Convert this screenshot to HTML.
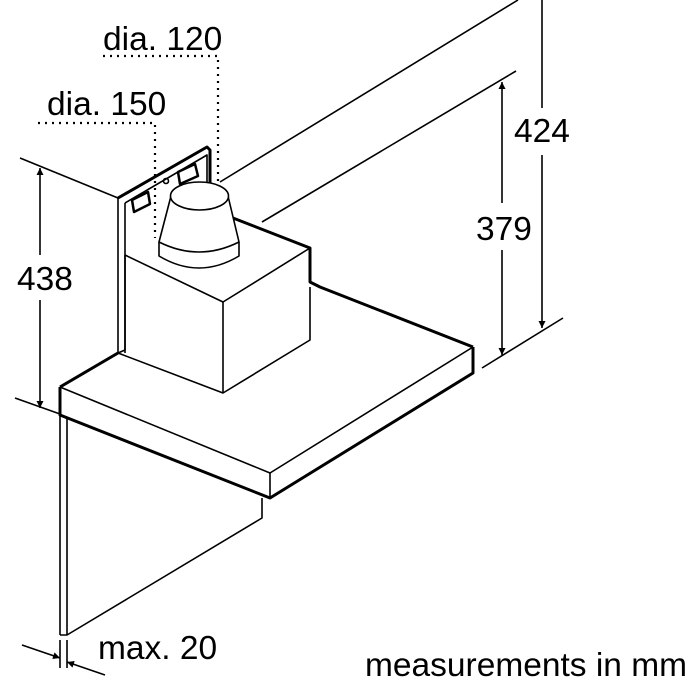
<!DOCTYPE html>
<html><head><style>html,body{margin:0;padding:0;background:#fff}svg{display:block}</style></head>
<body>
<svg width="700" height="700" viewBox="0 0 700 700" xmlns="http://www.w3.org/2000/svg">
<defs>
<marker id="a" viewBox="0 0 10 10" refX="10" refY="5" markerWidth="7" markerHeight="11" orient="auto-start-reverse" markerUnits="userSpaceOnUse"><path d="M0,0 L10,5 L0,10 z" fill="#000"/></marker>
</defs>
<g fill="none" stroke="#000" stroke-width="1.6" stroke-linejoin="round">
<line x1="220" y1="182" x2="518" y2="0"/>
<line x1="262" y1="222" x2="516" y2="71"/>
<line x1="20" y1="158" x2="118" y2="198"/>
<line x1="15" y1="398" x2="60" y2="414"/>
<line x1="482" y1="368" x2="563" y2="318"/>
<line x1="40" y1="168" x2="40" y2="255" marker-start="url(#a)"/>
<line x1="40" y1="300" x2="40" y2="408" marker-end="url(#a)"/>
<line x1="502" y1="82" x2="502" y2="203" marker-start="url(#a)"/>
<line x1="502" y1="250" x2="502" y2="355" marker-end="url(#a)"/>
<line x1="542" y1="0" x2="542" y2="108" />
<line x1="542" y1="155" x2="542" y2="328" marker-end="url(#a)"/>
<line x1="118" y1="198" x2="118" y2="353"/>
<line x1="125" y1="203" x2="125" y2="350"/>
<path d="M118,198 L207,147 L210,150 L210,232" stroke-width="3"/>
<path d="M125,203 L207,155 L207,230"/>
<path d="M132,200 L148,192 L150,204 L134,212 z" stroke-width="2.5"/>
<path d="M178,172 L195,164 L198,176 L180,184 z" stroke-width="2.5"/>
<circle cx="166" cy="181" r="2.5"/>
<path d="M125,255 L223,302 L310,248"/>
<path d="M118,353 L223,393 L310,340 L310,287"/>
<line x1="223" y1="302" x2="223" y2="393"/>
<line x1="125" y1="255" x2="125" y2="353"/>
<path d="M233,218 L310,248 L310,282 L320,287 L473,347" stroke-width="3"/>
<path d="M159,242 L159,256 Q199,280 239,256 L239,242" fill="#fff"/>
<path d="M159,242 L171,196 L228,196 L239,242 Q199,262 159,242 z" fill="#fff"/>
<ellipse cx="199.5" cy="196" rx="29" ry="14" fill="#fff"/>
<path d="M60,387 L118,353" stroke-width="3"/>
<path d="M118,353 L125,350"/>
<path d="M60,387 L60,415 L270,498 L473,373 L473,347" stroke-width="3"/>
<path d="M60,387 L270,473 L473,347"/>
<line x1="270" y1="473" x2="270" y2="498"/>
<line x1="60" y1="415" x2="60" y2="635"/>
<line x1="67" y1="418" x2="67" y2="635"/>
<path d="M60,635 L67,635 L262,518 L262,498"/>
<line x1="60" y1="640" x2="60" y2="668"/>
<line x1="67" y1="640" x2="67" y2="668"/>
<line x1="22" y1="645" x2="60" y2="658" marker-end="url(#a)"/>
<line x1="105" y1="675" x2="67" y2="662" marker-end="url(#a)"/>
</g>
<g fill="none" stroke="#000" stroke-width="2.2" stroke-dasharray="2,5">
<polyline points="103,56 218,56 218,185"/>
<polyline points="38,123 155,123 155,238"/>
</g>
<g font-family="Liberation Sans, sans-serif" font-size="33.5" fill="#000">
<text x="103" y="50">dia. 120</text>
<text x="47" y="115">dia. 150</text>
<text x="17" y="290">438</text>
<text x="476" y="240">379</text>
<text x="514" y="142">424</text>
<text x="98" y="659">max. 20</text>
<text x="365" y="676">measurements in mm</text>
</g>
</svg>
</body></html>
